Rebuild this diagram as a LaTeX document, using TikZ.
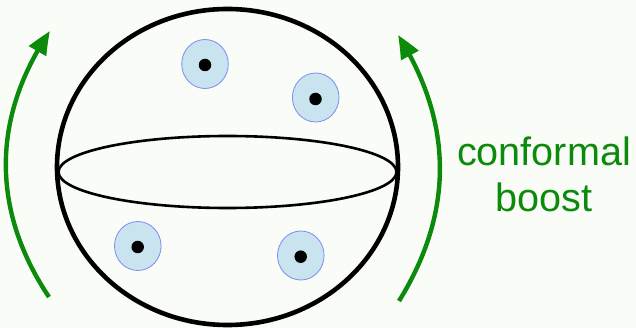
\documentclass[tikz,border=0pt]{standalone}
\usepackage{fontspec}
\setmainfont{Liberation Sans}
\usetikzlibrary{arrows.meta, bending, shapes.geometric}
\definecolor{boostGreen}{HTML}{0B8A0B}
\definecolor{blobFill}{HTML}{CAE4EF}
\definecolor{blobEdge}{HTML}{7C8CF2}
\definecolor{paper}{HTML}{FAFCF8}

\begin{document}
\begin{tikzpicture}[
    x=1pt, y=-1pt,
    shell/.style={
      ellipse,
      draw=black,
      inner sep=0pt,
    },
    blob/.style={
      ellipse,
      draw=blobEdge,
      fill=blobFill,
      line width=0.8pt,
      minimum width=46.6pt,
      minimum height=49pt,
      inner sep=0pt,
    },
    pole/.style={circle, fill=black, minimum size=12.5pt, inner sep=0pt},
    boost/.style={-{Triangle[length=24pt, width=19pt, bend]}, boostGreen, line width=4.4pt},
  ]
    \useasboundingbox (0,0) rectangle (636,328);
    \fill[paper] (0,0) rectangle (636,328);

    % sphere and its equator
    \node[shell, line width=4.6pt, minimum width=341pt, minimum height=316pt] (sphere) at (227.5,167) {};
    \node[shell, line width=2.6pt, minimum width=338pt, minimum height=72pt] (equator) at (227.5,172) {};

    % charges on the sphere
    \node[blob] (blobA) at (205,64) {};
    \node[blob] (blobB) at (315.7,97.5) {};
    \node[blob] (blobC) at (137.8,246) {};
    \node[blob] (blobD) at (300.8,255.5) {};
    \node[pole] (poleA) at (205,65) {};
    \node[pole] (poleB) at (315.5,99) {};
    \node[pole] (poleC) at (137.7,247) {};
    \node[pole] (poleD) at (300.7,256.7) {};

    % boost arrows
    \coordinate (leftFoot) at (49,297);
    \coordinate (leftTip) at (50,31);
    \coordinate (rightFoot) at (399,301);
    \coordinate (rightTip) at (398,35);
    \draw[boost] (leftFoot) to[bend left=34] (leftTip);
    \draw[boost] (rightFoot) to[bend right=32] (rightTip);

    \node[text=boostGreen, align=center, font=\fontsize{39.6}{46}\selectfont] (label) at (544,174) {conformal\\boost};
  \end{tikzpicture}
\end{document}
